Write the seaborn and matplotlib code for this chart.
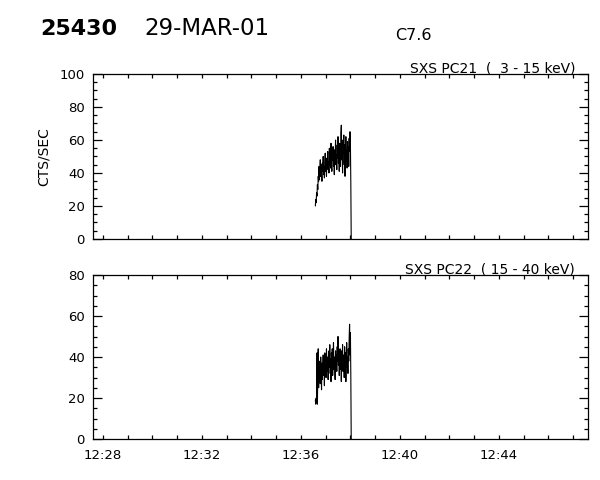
"""
Yohkoh WBS / SXS light curves, 29-MAR-01, flare 25430 (C7.6)
Two stacked panels: PC21 (3-15 keV) and PC22 (15-40 keV) count rates.
"""

import pandas as pd
import matplotlib
matplotlib.use("Agg")
import matplotlib.pyplot as plt
import matplotlib.dates as mdates
import matplotlib.ticker as mticker
import seaborn as sns

# 1 s samples starting at 12:36:35 UT, last sample drops to zero
START = "2001-03-29 12:36:35"

pc21_rate = [
    20, 24, 22, 28, 26, 33, 30, 38, 35, 44,
    36, 42, 48, 38, 45, 40, 35, 46, 41, 50,
    39, 44, 37, 47, 52, 41, 45, 38, 49, 44,
    53, 42, 47, 40, 55, 45, 50, 43, 58, 46,
    41, 52, 48, 56, 44, 50, 39, 54, 47, 60,
    45, 51, 42, 57, 49, 62, 46, 53, 41, 58,
    50, 44, 64, 69, 48, 55, 40, 60, 52, 63,
    45, 57, 38, 51, 62, 47, 54, 43, 59, 50,
    56, 44, 61, 53, 65, 58, 34, 0,
]

pc22_rate = [
    19, 17, 20, 18, 42, 17, 33, 44, 25, 38,
    30, 36, 27, 40, 33, 24, 37, 29, 35, 41,
    31, 38, 26, 42, 34, 39, 30, 44, 36, 33,
    40, 29, 37, 43, 35, 46, 32, 39, 28, 42,
    36, 44, 31, 38, 47, 34, 40, 37, 29, 43,
    35, 41, 33, 45, 38, 50, 36, 42, 31, 39,
    44, 34, 40, 28, 43, 37, 46, 33, 39, 41,
    30, 45, 36, 42, 28, 38, 47, 35, 40, 32,
    44, 38, 49, 56, 41, 52, 31, 0,
]

panel_titles = ["SXS PC21  (  3 - 15 keV)", "SXS PC22  ( 15 - 40 keV)"]
panel_ymax = [100, 80]

X_START = pd.Timestamp("2001-03-29 12:27:36")
X_END = pd.Timestamp("2001-03-29 12:47:36")

sns.set_style("ticks")
plt.rcParams["font.family"] = ["DejaVu Sans"]
plt.rcParams.update({
    "axes.edgecolor": "black",
    "axes.linewidth": 0.9,
    "text.color": "black",
    "axes.labelcolor": "black",
    "xtick.color": "black",
    "ytick.color": "black",
})


def style_axis(ax, ymax, show_xlabels):
    ax.set_xlim(X_START, X_END)
    ax.set_ylim(0, ymax)
    ax.xaxis.set_major_locator(mdates.MinuteLocator(byminute=range(0, 60, 4)))
    ax.xaxis.set_minor_locator(mdates.MinuteLocator())
    ax.xaxis.set_major_formatter(mdates.DateFormatter("%H:%M"))
    ax.yaxis.set_major_locator(mticker.MultipleLocator(20))
    ax.yaxis.set_minor_locator(mticker.MultipleLocator(5))
    ax.tick_params(which="both", direction="in", top=True, right=True,
                   color="black", width=0.9, labelsize=9.5, labelcolor="black")
    ax.tick_params(axis="x", which="both", length=3, pad=7)
    ax.tick_params(axis="y", which="major", length=6.5, pad=6)
    ax.tick_params(axis="y", which="minor", length=3)
    if not show_xlabels:
        ax.tick_params(axis="x", labelbottom=False)
    ax.set_xlabel("")
    ax.set_ylabel("")
    for s in ax.spines.values():
        s.set_visible(True)
        s.set_color("black")


def main():
    times = pd.date_range(START, periods=len(pc21_rate), freq="1s")
    df = pd.DataFrame({"time": times, "PC21": pc21_rate, "PC22": pc22_rate})

    fig = plt.figure(figsize=(6, 4.8), dpi=100)
    ax_top = fig.add_axes([0.155, 0.5021, 0.825, 0.34375])
    ax_bot = fig.add_axes([0.155, 0.0854, 0.825, 0.34167])

    for ax, col, title, ymax, show in zip(
            [ax_top, ax_bot], ["PC21", "PC22"], panel_titles, panel_ymax, [False, True]):
        sns.lineplot(data=df, x="time", y=col, ax=ax, color="black",
                     linewidth=0.8, estimator=None)
        style_axis(ax, ymax, show)
        ax.text((575 - 93) / 495, 1.012, title, transform=ax.transAxes,
                ha="right", va="baseline", fontsize=10, color="black")

    fig.text(44 / 600, 1 - 157 / 480, "CTS/SEC", rotation=90,
             ha="center", va="center", fontsize=10, color="black")

    # header line
    fig.text(40 / 600, 1 - 35 / 480, "25430", fontsize=16, fontweight="bold",
             ha="left", va="baseline", color="black")
    fig.text(144 / 600, 1 - 35 / 480, "29-MAR-01", fontsize=16.5,
             ha="left", va="baseline", color="black")
    fig.text(395 / 600, 1 - 40 / 480, "C7.6", fontsize=11.5,
             ha="left", va="baseline", color="black")

    fig.savefig("out.png", dpi=100, facecolor="white")
    plt.close(fig)


if __name__ == "__main__":
    main()
